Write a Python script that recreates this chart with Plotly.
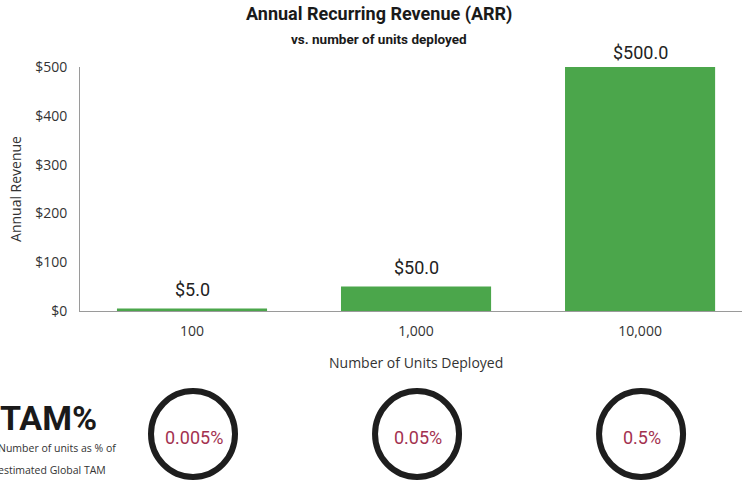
import plotly.graph_objects as go

categories = ["100", "1,000", "10,000"]
arr_values = [5.0, 50.0, 500.0]
tam_pct = ["0.005%", "0.05%", "0.5%"]
y_ticks = [0, 100, 200, 300, 400, 500]
y_ticklabels = ["$0", "$100", "$200", "$300", "$400", "$500"]

W, H = 742, 484
L, R, T, B = 80, 0, 67, 173
plot_h = H - T - B
plot_w = W - L - R
label_shift = [7, 7, 2]

def py(px):
    # pixel y from top -> paper y
    return (H - B - px) / plot_h

def pxx(px):
    # pixel x from left -> paper x
    return (px - L) / plot_w

fig = go.Figure()
fig.add_trace(go.Bar(
    x=list(range(len(categories))),
    y=arr_values,
    marker=dict(color="#4ba64b", line=dict(width=0)),
    width=0.67,
    hoverinfo="skip",
))

shapes = []
annotations = []
for i, v in enumerate(arr_values):
    annotations.append(dict(
        x=i, y=v, xref="x", yref="y", text=f"${v:.1f}", showarrow=False,
        font=dict(family="Roboto, Arial", size=18, color="#222222"),
        xanchor="center", yanchor="bottom", yshift=label_shift[i],
    ))
for i, t in enumerate(tam_pct):
    shapes.append(dict(
        type="circle", xref="x", yref="paper",
        xsizemode="pixel", ysizemode="pixel",
        xanchor=i, yanchor=py(434),
        x0=-41, x1=43, y0=-43, y1=43,
        line=dict(color="#1e1e1e", width=6),
        fillcolor="rgba(0,0,0,0)",
    ))
    annotations.append(dict(
        x=i, y=py(437), xref="x", yref="paper", text=t, showarrow=False,
        font=dict(family="Roboto, Arial", size=18, color="#a3324f"),
        xanchor="center", yanchor="middle", xshift=2,
    ))

annotations += [
    dict(text="<b>Annual Recurring Revenue (ARR)</b>", x=pxx(379), y=py(14),
         xref="paper", yref="paper", showarrow=False,
         font=dict(family="Liberation Sans Narrow, Roboto", size=18, color="#1a1a1a"),
         xanchor="center", yanchor="middle"),
    dict(text="<b>vs. number of units deployed</b>", x=pxx(379), y=py(39),
         xref="paper", yref="paper", showarrow=False,
         font=dict(family="Liberation Sans Narrow, Roboto", size=13.5, color="#1a1a1a"),
         xanchor="center", yanchor="middle"),
    dict(text="Number of Units Deployed", x=pxx(416), y=py(362),
         xref="paper", yref="paper", showarrow=False,
         font=dict(family="Open Sans, Arial", size=14, color="#333333"),
         xanchor="center", yanchor="middle"),
    dict(text="<b>TAM%</b>", x=pxx(-2), y=py(418), xref="paper", yref="paper",
         showarrow=False, xanchor="left", yanchor="middle",
         font=dict(family="Liberation Sans Narrow, Roboto", size=34, color="#1a1a1a")),
    dict(text="Number of units as % of", x=pxx(-4), y=py(448),
         xref="paper", yref="paper", showarrow=False, xanchor="left", yanchor="middle",
         font=dict(family="Open Sans, Arial", size=10.5, color="#333333")),
    dict(text="estimated Global TAM", x=pxx(-4), y=py(470),
         xref="paper", yref="paper", showarrow=False, xanchor="left", yanchor="middle",
         font=dict(family="Open Sans, Arial", size=10.5, color="#333333")),
]

fig.update_layout(
    width=W, height=H,
    margin=dict(l=L, r=R, t=T, b=B, pad=0),
    paper_bgcolor="white", plot_bgcolor="white",
    showlegend=False,
    bargap=0.33,
    shapes=shapes,
    annotations=annotations,
    font=dict(family="Open Sans, Arial", color="#444444"),
)
fig.update_xaxes(
    range=[-0.5, 2.455],
    tickvals=list(range(len(categories))), ticktext=categories,
    showgrid=False, zeroline=False,
    showline=True, linecolor="#9a9a9a", linewidth=1,
    ticks="", ticklabelstandoff=7,
    tickfont=dict(family="Open Sans, Arial", size=14, color="#333333"),
)
fig.update_yaxes(
    range=[0, 500],
    tickvals=y_ticks, ticktext=y_ticklabels,
    showgrid=False, zeroline=False,
    showline=True, linecolor="#9a9a9a", linewidth=1,
    ticks="", ticklabelstandoff=9,
    tickfont=dict(family="Open Sans, Arial", size=14, color="#333333"),
    title=dict(text="Annual Revenue", standoff=10,
               font=dict(family="Open Sans, Arial", size=14, color="#333333")),
)

fig.write_html("out.html", config={"displayModeBar": False},
               post_script="document.body.style.margin='0px';")
